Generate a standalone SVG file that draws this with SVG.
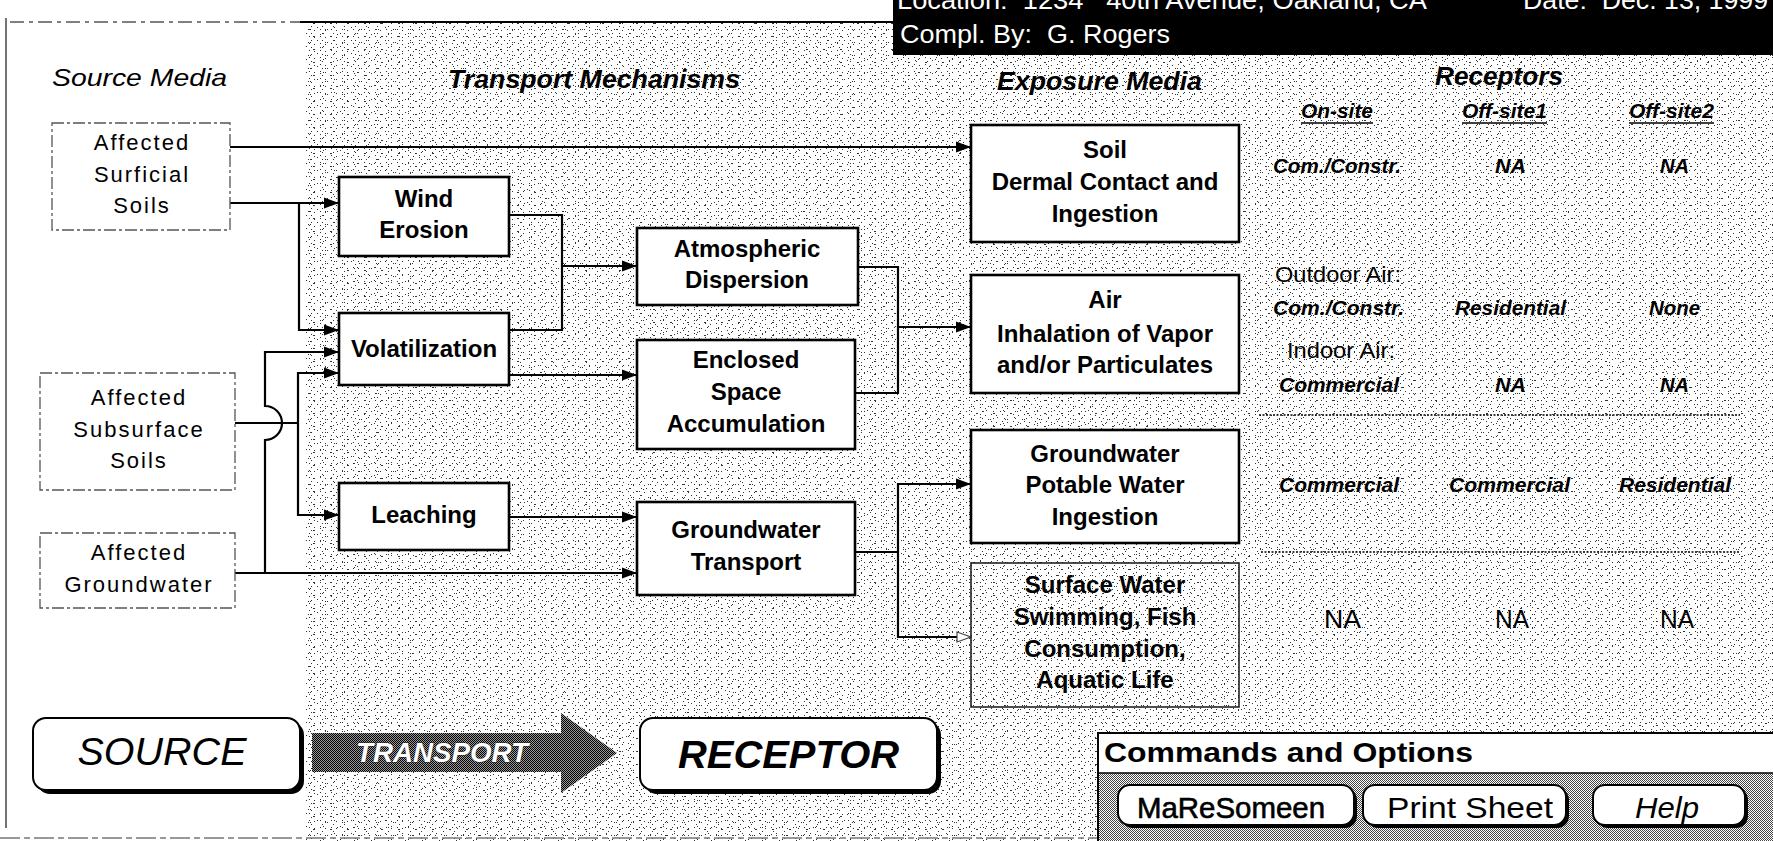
<svg xmlns="http://www.w3.org/2000/svg" width="1773" height="841" viewBox="0 0 1773 841">
<defs>
<style>
text{font-family:"Liberation Sans",Arial,sans-serif;fill:#000}
.src{fill:#fff;stroke:#555;stroke-width:1.3;stroke-dasharray:12 3 3 3}
.srct{font-size:22px;letter-spacing:2px;text-anchor:middle}
.tm{fill:#fff;stroke:#000;stroke-width:2.6}
.bt{font-size:24px;font-weight:bold;text-anchor:middle}
.hd{font-size:26px;font-weight:bold;font-style:italic}
.rc{font-size:21px;font-weight:bold;font-style:italic}
.rg{font-size:22px}
.na{font-size:25px}
.conn{fill:none;stroke:#000;stroke-width:2.2}
.wt{fill:#fff;font-size:26px}
.tt{fill:#fff;stroke:#222;stroke-width:0.8px;paint-order:stroke;font-size:28px;font-weight:bold;font-style:italic}
.btn{fill:#fff;stroke:#000;stroke-width:2}
.sh{fill:#000}
</style>
<marker id="arr" markerUnits="userSpaceOnUse" markerWidth="16" markerHeight="12" refX="15" refY="6" orient="auto">
<path d="M0,0.5 L15,6 L0,11.5 z" fill="#000"/>
</marker>
<marker id="arrh" markerUnits="userSpaceOnUse" markerWidth="16" markerHeight="12" refX="15" refY="6" orient="auto">
<path d="M1,1 L15,6 L1,11 z" fill="#fff" stroke="#444" stroke-width="1.2"/>
</marker>
<pattern id="nA" width="11" height="7" patternUnits="userSpaceOnUse">
<rect x="1" y="1" width="1" height="1" fill="#333"/>
<rect x="6" y="2" width="1" height="1" fill="#333"/>
<rect x="3" y="5" width="1" height="1" fill="#333"/>
</pattern>
<pattern id="nB" width="17" height="13" patternUnits="userSpaceOnUse">
<rect x="2" y="3" width="1" height="1" fill="#333"/>
<rect x="4" y="3" width="1" height="1" fill="#333"/>
<rect x="11" y="1" width="1" height="1" fill="#333"/>
<rect x="14" y="8" width="1" height="1" fill="#333"/>
<rect x="7" y="10" width="1" height="1" fill="#333"/>
<rect x="8" y="10" width="1" height="1" fill="#333"/>
<rect x="0" y="7" width="1" height="1" fill="#333"/>
</pattern>
<pattern id="hatch" width="2" height="2" patternUnits="userSpaceOnUse">
<rect width="2" height="2" fill="#fff"/>
<rect x="0" y="0" width="1" height="1" fill="#444"/>
<rect x="1" y="1" width="1" height="1" fill="#444"/>
</pattern>
<pattern id="dark" width="2" height="2" patternUnits="userSpaceOnUse">
<rect width="2" height="2" fill="#000"/>
<rect x="1" y="0" width="1" height="1" fill="#9a9a9a"/>
<rect x="0" y="1" width="1" height="1" fill="#9a9a9a"/>
</pattern>
</defs>

<rect width="1773" height="841" fill="#fff"/>
<g id="texture">
<rect x="304" y="23" width="1469" height="818" fill="url(#nA)"/>
<rect x="304" y="23" width="1469" height="818" fill="url(#nB)"/>
</g>

<g id="frame">
<line x1="10" y1="22" x2="300" y2="22" stroke="#555" stroke-width="1.5" stroke-dasharray="14 5 4 5"/>
<line x1="300" y1="22" x2="893" y2="22" stroke="#000" stroke-width="2"/>
<line x1="6" y1="18" x2="6" y2="828" stroke="#444" stroke-width="1.5"/>
<line x1="0" y1="838" x2="1098" y2="838" stroke="#777" stroke-width="1.5" stroke-dasharray="20 4 6 4"/>
</g>

<g id="header">
<rect x="893" y="0" width="880" height="55" fill="#000"/>
<text class="wt" x="897" y="9" textLength="530" lengthAdjust="spacingAndGlyphs" xml:space="preserve">Location:  1234   40th Avenue, Oakland, CA</text>
<text class="wt" x="1523" y="9" textLength="245" lengthAdjust="spacingAndGlyphs" xml:space="preserve">Date:  Dec. 13, 1999</text>
<text class="wt" x="900" y="43" textLength="270" lengthAdjust="spacingAndGlyphs" xml:space="preserve">Compl. By:  G. Rogers</text>
</g>

<g id="headings">
<text x="52" y="86" font-size="24" font-style="italic" textLength="175" lengthAdjust="spacingAndGlyphs">Source Media</text>
<text class="hd" x="448" y="88" textLength="292" lengthAdjust="spacingAndGlyphs">Transport Mechanisms</text>
<text class="hd" x="997" y="90" textLength="205" lengthAdjust="spacingAndGlyphs">Exposure Media</text>
<text class="hd" x="1435" y="85" textLength="128" lengthAdjust="spacingAndGlyphs">Receptors</text>
</g>

<g id="receptors">
<text class="rc" x="1301" y="118" textLength="72" lengthAdjust="spacingAndGlyphs">On-site</text>
<text class="rc" x="1462" y="118" textLength="85" lengthAdjust="spacingAndGlyphs">Off-site1</text>
<text class="rc" x="1629" y="118" textLength="85" lengthAdjust="spacingAndGlyphs">Off-site2</text>
<g stroke="#000" stroke-width="1.6">
<line x1="1301" y1="123" x2="1373" y2="123"/>
<line x1="1462" y1="123" x2="1547" y2="123"/>
<line x1="1629" y1="123" x2="1714" y2="123"/>
</g>
<text class="rc" x="1273" y="173" textLength="128" lengthAdjust="spacingAndGlyphs">Com./Constr.</text>
<text class="rc" x="1495" y="173" textLength="31" lengthAdjust="spacingAndGlyphs">NA</text>
<text class="rc" x="1660" y="173" textLength="29" lengthAdjust="spacingAndGlyphs">NA</text>
<text class="rg" x="1275" y="282" textLength="126" lengthAdjust="spacingAndGlyphs">Outdoor Air:</text>
<text class="rc" x="1273" y="315" textLength="131" lengthAdjust="spacingAndGlyphs">Com./Constr.</text>
<text class="rc" x="1455" y="315" textLength="111" lengthAdjust="spacingAndGlyphs">Residential</text>
<text class="rc" x="1649" y="315" textLength="51" lengthAdjust="spacingAndGlyphs">None</text>
<text class="rg" x="1287" y="358" textLength="108" lengthAdjust="spacingAndGlyphs">Indoor Air:</text>
<text class="rc" x="1279" y="392" textLength="120" lengthAdjust="spacingAndGlyphs">Commercial</text>
<text class="rc" x="1495" y="392" textLength="31" lengthAdjust="spacingAndGlyphs">NA</text>
<text class="rc" x="1660" y="392" textLength="29" lengthAdjust="spacingAndGlyphs">NA</text>
<line x1="1259" y1="415" x2="1740" y2="415" stroke="#000" stroke-width="1.5" stroke-dasharray="2 1.5"/>
<text class="rc" x="1279" y="492" textLength="120" lengthAdjust="spacingAndGlyphs">Commercial</text>
<text class="rc" x="1449" y="492" textLength="121" lengthAdjust="spacingAndGlyphs">Commercial</text>
<text class="rc" x="1619" y="492" textLength="112" lengthAdjust="spacingAndGlyphs">Residential</text>
<line x1="1261" y1="552" x2="1740" y2="552" stroke="#000" stroke-width="1.5" stroke-dasharray="2 1.5"/>
<text class="na" x="1324" y="628" textLength="37" lengthAdjust="spacingAndGlyphs">NA</text>
<text class="na" x="1495" y="628" textLength="34" lengthAdjust="spacingAndGlyphs">NA</text>
<text class="na" x="1660" y="628" textLength="34" lengthAdjust="spacingAndGlyphs">NA</text>
</g>

<g id="connectors">
<path class="conn" d="M230,147 H971" stroke-width="2.6" marker-end="url(#arr)"/>
<path class="conn" d="M230,203 H339" marker-end="url(#arr)"/>
<path class="conn" d="M299,203 V330 H339" marker-end="url(#arr)"/>
<path class="conn" d="M235,423 H298"/>
<path class="conn" d="M298,423 V373 H339" marker-end="url(#arr)"/>
<path class="conn" d="M298,423 V515 H339" marker-end="url(#arr)"/>
<path class="conn" d="M235,573 H637" marker-end="url(#arr)"/>
<path class="conn" d="M265,573 V440 A17,17 0 0 0 265,406 V352 H339" marker-end="url(#arr)"/>
<path class="conn" d="M509,215 H562 V330 H509"/>
<path class="conn" d="M562,266 H637" marker-end="url(#arr)"/>
<path class="conn" d="M509,375 H637" marker-end="url(#arr)"/>
<path class="conn" d="M509,517 H637" marker-end="url(#arr)"/>
<path class="conn" d="M858,267 H898 V393 H855"/>
<path class="conn" d="M898,327 H971" marker-end="url(#arr)"/>
<path class="conn" d="M855,552 H898"/>
<path class="conn" d="M898,552 V484 H971" marker-end="url(#arr)"/>
<path class="conn" d="M898,552 V637 H971" marker-end="url(#arrh)"/>
</g>

<g id="src-surficial">
<rect class="src" x="52" y="123" width="178" height="107"/>
<text class="srct" x="142" y="150">Affected</text>
<text class="srct" x="142" y="182">Surficial</text>
<text class="srct" x="142" y="213">Soils</text>
</g>
<g id="src-subsurface">
<rect class="src" x="40" y="373" width="195" height="117"/>
<text class="srct" x="139" y="405">Affected</text>
<text class="srct" x="139" y="437">Subsurface</text>
<text class="srct" x="139" y="468">Soils</text>
</g>
<g id="src-groundwater">
<rect class="src" x="40" y="533" width="195" height="75"/>
<text class="srct" x="139" y="560">Affected</text>
<text class="srct" x="139" y="592">Groundwater</text>
</g>

<g id="tm-wind">
<rect class="tm" x="339" y="177" width="170" height="79"/>
<text class="bt" x="424" y="207">Wind</text>
<text class="bt" x="424" y="238">Erosion</text>
</g>
<g id="tm-vol">
<rect class="tm" x="339" y="313" width="170" height="72"/>
<text class="bt" x="424" y="357">Volatilization</text>
</g>
<g id="tm-leach">
<rect class="tm" x="339" y="483" width="170" height="67"/>
<text class="bt" x="424" y="523">Leaching</text>
</g>
<g id="tm-atmos">
<rect class="tm" x="637" y="228" width="221" height="77"/>
<text class="bt" x="747" y="257">Atmospheric</text>
<text class="bt" x="747" y="288">Dispersion</text>
</g>
<g id="tm-enclosed">
<rect class="tm" x="637" y="340" width="218" height="109"/>
<text class="bt" x="746" y="368">Enclosed</text>
<text class="bt" x="746" y="400">Space</text>
<text class="bt" x="746" y="432">Accumulation</text>
</g>
<g id="tm-gwt">
<rect class="tm" x="637" y="502" width="218" height="93"/>
<text class="bt" x="746" y="538">Groundwater</text>
<text class="bt" x="746" y="570">Transport</text>
</g>

<g id="ex-soil">
<rect class="tm" x="971" y="125" width="268" height="117"/>
<text class="bt" x="1105" y="158">Soil</text>
<text class="bt" x="1105" y="190">Dermal Contact and</text>
<text class="bt" x="1105" y="222">Ingestion</text>
</g>
<g id="ex-air">
<rect class="tm" x="971" y="275" width="268" height="118"/>
<text class="bt" x="1105" y="308">Air</text>
<text class="bt" x="1105" y="342">Inhalation of Vapor</text>
<text class="bt" x="1105" y="373">and/or Particulates</text>
</g>
<g id="ex-gw">
<rect class="tm" x="971" y="430" width="268" height="113"/>
<text class="bt" x="1105" y="462">Groundwater</text>
<text class="bt" x="1105" y="493">Potable Water</text>
<text class="bt" x="1105" y="525">Ingestion</text>
</g>
<g id="ex-surface">
<rect x="971" y="563" width="268" height="144" fill="none" stroke="#222" stroke-width="1.6"/>
<text class="bt" x="1105" y="593">Surface Water</text>
<text class="bt" x="1105" y="625">Swimming, Fish</text>
<text class="bt" x="1105" y="657">Consumption,</text>
<text class="bt" x="1105" y="688">Aquatic Life</text>
</g>

<g id="legend-source">
<rect class="sh" x="37" y="722" width="267" height="72" rx="13"/>
<rect class="btn" x="33" y="718" width="267" height="72" rx="13"/>
<text x="162" y="765" font-size="38" font-style="italic" text-anchor="middle" textLength="169" lengthAdjust="spacingAndGlyphs">SOURCE</text>
</g>
<g id="legend-transport">
<polygon points="312,733 561,733 561,713 617,753 561,793 561,772 312,772" fill="url(#dark)"/>
<text class="tt" x="356" y="762" textLength="172" lengthAdjust="spacingAndGlyphs">TRANSPORT</text>
</g>
<g id="legend-receptor">
<rect class="sh" x="644" y="722" width="297" height="72" rx="13"/>
<rect class="btn" x="640" y="718" width="297" height="72" rx="13"/>
<text x="678" y="768" font-size="39" font-weight="bold" font-style="italic" textLength="221" lengthAdjust="spacingAndGlyphs">RECEPTOR</text>
</g>

<g id="commands">
<rect x="1098" y="733" width="680" height="115" fill="#fff" stroke="#000" stroke-width="2"/>
<text x="1104" y="762" font-size="28" font-weight="bold" textLength="369" lengthAdjust="spacingAndGlyphs">Commands and Options</text>
<rect x="1099" y="773" width="674" height="68" fill="url(#hatch)"/>
<line x1="1098" y1="773" x2="1773" y2="773" stroke="#000" stroke-width="1.5"/>
</g>
<g id="btn-main">
<rect class="sh" x="1121" y="788" width="236" height="40" rx="12"/>
<rect class="btn" x="1118" y="785" width="236" height="40" rx="12"/>
<text x="1231" y="818" font-size="29" text-anchor="middle" stroke="#000" stroke-width="0.6" textLength="188" lengthAdjust="spacingAndGlyphs">MaReSomeen</text>
</g>
<g id="btn-print">
<rect class="sh" x="1366" y="788" width="203" height="40" rx="12"/>
<rect class="btn" x="1363" y="785" width="203" height="40" rx="12"/>
<text x="1470" y="818" font-size="29" text-anchor="middle" textLength="166" lengthAdjust="spacingAndGlyphs">Print Sheet</text>
</g>
<g id="btn-help">
<rect class="sh" x="1596" y="788" width="152" height="40" rx="12"/>
<rect class="btn" x="1593" y="785" width="152" height="40" rx="12"/>
<text x="1667" y="818" font-size="29" font-style="italic" text-anchor="middle" textLength="64" lengthAdjust="spacingAndGlyphs">Help</text>
</g>
</svg>
